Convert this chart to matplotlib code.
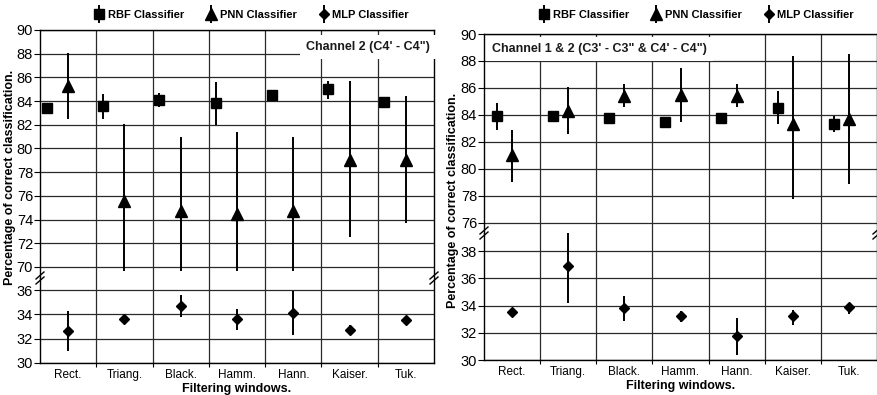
import numpy as np
import matplotlib
matplotlib.use('Agg')
import matplotlib.pyplot as plt
from matplotlib.legend_handler import HandlerErrorbar
from matplotlib.container import ErrorbarContainer

plt.rcParams['font.family'] = ['Liberation Sans', 'DejaVu Sans']

windows = ['Rect.', 'Triang.', 'Black.', 'Hamm.', 'Hann.', 'Kaiser.', 'Tuk.']

# Channel 2 (C4' - C4'')
rbf_ch2 = [83.4, 83.6, 84.1, 83.8, 84.5, 85.0, 83.9]
rbf_ch2_lo = [83.4, 82.5, 83.5, 82.0, 84.5, 84.2, 83.9]
rbf_ch2_hi = [83.4, 84.6, 84.7, 85.6, 84.5, 85.7, 83.9]
pnn_ch2 = [85.3, 75.6, 74.7, 74.5, 74.7, 79.0, 79.0]
pnn_ch2_lo = [82.5, 69.7, 69.7, 69.7, 69.7, 72.5, 73.7]
pnn_ch2_hi = [88.1, 82.1, 81.0, 81.4, 81.0, 85.7, 84.4]
mlp_ch2 = [32.6, 33.6, 34.7, 33.6, 34.1, 32.7, 33.5]
mlp_ch2_lo = [31.0, 33.3, 33.8, 32.7, 32.3, 32.3, 33.3]
mlp_ch2_hi = [34.3, 33.8, 35.6, 34.4, 35.9, 33.1, 33.6]

# Channel 1 & 2
rbf_ch12 = [83.9, 83.9, 83.8, 83.5, 83.8, 84.5, 83.3]
rbf_ch12_lo = [82.9, 83.9, 83.8, 83.5, 83.8, 83.3, 82.7]
rbf_ch12_hi = [84.9, 83.9, 83.8, 83.5, 83.8, 85.8, 83.9]
pnn_ch12 = [81.0, 84.3, 85.4, 85.5, 85.4, 83.3, 83.7]
pnn_ch12_lo = [79.0, 82.6, 84.6, 83.5, 84.6, 77.8, 78.9]
pnn_ch12_hi = [82.9, 86.1, 86.3, 87.5, 86.3, 88.4, 88.5]
mlp_ch12 = [33.5, 36.9, 33.8, 33.2, 31.8, 33.2, 33.9]
mlp_ch12_lo = [33.3, 34.2, 32.9, 32.8, 30.4, 32.6, 33.4]
mlp_ch12_hi = [33.7, 39.6, 34.7, 33.6, 33.1, 33.7, 34.2]

W, H = 878, 395
fig = plt.figure(figsize=(W / 100, H / 100), dpi=100)


def add_ax(l, t, r, b):
    return fig.add_axes([l / W, 1 - b / H, (r - l) / W, (b - t) / H])


def errs(m, lo, hi):
    m = np.array(m); lo = np.array(lo); hi = np.array(hi)
    return [m - lo, hi - m]


def panel(l, r, t, brk, b, top_lim, low_lim, top_ticks, low_ticks,
          series, rbf_off, title, title_x, title_ha, leg_x):
    ax_t = add_ax(l, t, r, brk)
    ax_b = add_ax(l, brk, r, b)
    x = np.arange(len(windows))
    styles = [('s', 7, rbf_off, 'RBF Classifier'),
              ('^', 8, 0.0, 'PNN Classifier'),
              ('D', 5, 0.0, 'MLP Classifier')]
    handles = []
    for ax in (ax_t, ax_b):
        handles = []
        for (mk, ms, off, lab), (m, lo, hi) in zip(styles, series):
            h = ax.errorbar(x + off, m, yerr=errs(m, lo, hi), fmt=mk, ms=ms,
                            color='black', ecolor='black', elinewidth=1.4,
                            capsize=0, label=lab, zorder=4)
            handles.append(h)
        ax.set_xlim(-0.5, len(windows) - 0.5)
        ax.set_xticks(x)
        ax.set_xticks(np.arange(0.5, len(windows) - 0.5, 1), minor=True)
        ax.grid(True, which='minor', axis='x', color='#2a2a2a', lw=0.9)
        ax.grid(True, which='major', axis='y', color='#2a2a2a', lw=0.9)
        ax.tick_params(axis='y', direction='out', length=4, width=0.8,
                       labelsize=10.5, pad=1)
        ax.tick_params(axis='x', which='major', length=0, labelsize=8.5, pad=4)
        ax.tick_params(axis='x', which='minor', length=3, width=0.8)
        for s in ax.spines.values():
            s.set_linewidth(1.0)
    ax_t.set_ylim(*top_lim)
    ax_t.set_yticks(top_ticks)
    ax_b.set_ylim(*low_lim)
    ax_b.set_yticks(low_ticks)
    ax_t.spines['bottom'].set_visible(False)
    ax_b.spines['top'].set_visible(False)
    ax_t.tick_params(axis='x', which='both', labelbottom=False, length=0)
    ax_b.set_xticklabels(windows)
    ax_b.set_xlabel('Filtering windows.', fontsize=9, fontweight='bold',
                    labelpad=2)

    # break marks
    hb = b - brk
    wd = r - l
    for xa in (0, 1):
        for dy in (-2.5, 2.5):
            ax_b.plot([xa - 4 / wd, xa + 4 / wd],
                      [1 + (dy - 3.5) / hb, 1 + (dy + 3.5) / hb],
                      transform=ax_b.transAxes, color='black', lw=1.0,
                      clip_on=False, zorder=6)

    ax_t.text(title_x, 0.955, title, transform=ax_t.transAxes, ha=title_ha,
              va='top', fontsize=9, fontweight='bold', color='#1a1a1a',
              zorder=5,
              bbox=dict(facecolor='white', edgecolor='none', pad=4.5))

    ax_t.legend(handles, [s[3] for s in styles], loc='center',
                bbox_to_anchor=(leg_x / W, 1 - 15 / H),
                bbox_transform=fig.transFigure, ncol=3, frameon=False,
                handlelength=0.8, handletextpad=0.4, columnspacing=2.0,
                handler_map={ErrorbarContainer: HandlerErrorbar(yerr_size=0.8)},
                prop={'weight': 'bold', 'size': 8})
    return ax_t, ax_b


panel(40, 434, 30, 278, 363, (69.07, 90), (30, 36.99),
      np.arange(70, 91, 2), np.arange(30, 37, 2),
      [(rbf_ch2, rbf_ch2_lo, rbf_ch2_hi),
       (pnn_ch2, pnn_ch2_lo, pnn_ch2_hi),
       (mlp_ch2, mlp_ch2_lo, mlp_ch2_hi)],
      -0.38, 'Channel 2 (C4\' - C4")', 0.99, 'right', 252)

panel(484, 877, 34, 233, 360, (75.25, 90), (30, 39.34),
      np.arange(76, 91, 2), np.arange(30, 39, 2),
      [(rbf_ch12, rbf_ch12_lo, rbf_ch12_hi),
       (pnn_ch12, pnn_ch12_lo, pnn_ch12_hi),
       (mlp_ch12, mlp_ch12_lo, mlp_ch12_hi)],
      -0.27, 'Channel 1 & 2 (C3\' - C3" & C4\' - C4")', 0.02, 'left', 697)

fig.text(10 / W, 1 - 177 / H, 'Percentage of correct classification.',
         rotation=90, ha='center', va='center', fontsize=9, fontweight='bold')
fig.text(453 / W, 1 - 200 / H, 'Percentage of correct classification.',
         rotation=90, ha='center', va='center', fontsize=9, fontweight='bold')

fig.savefig('out.png', dpi=100)
